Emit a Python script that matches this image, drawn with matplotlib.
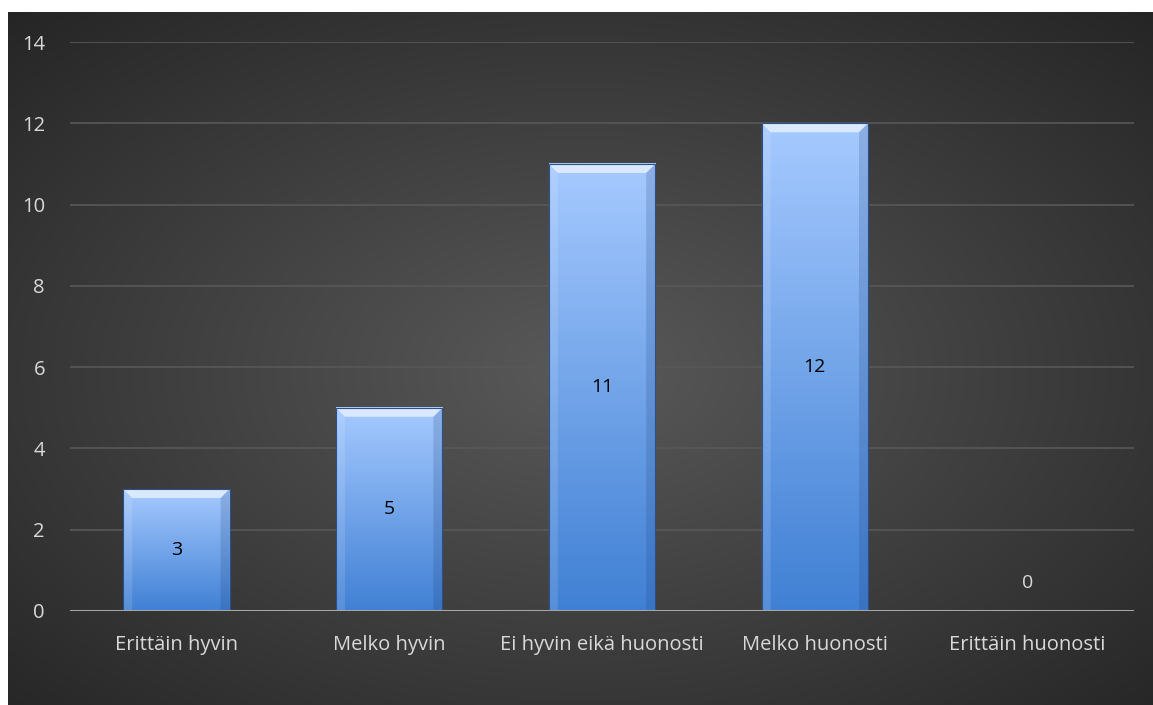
import numpy as np
import matplotlib.pyplot as plt
from matplotlib.patches import Polygon

categories = ['Erittäin hyvin', 'Melko hyvin', 'Ei hyvin eikä huonosti',
              'Melko huonosti', 'Erittäin huonosti']
values = [3, 5, 11, 12, 0]
yticks = [0, 2, 4, 6, 8, 10, 12, 14]

plt.rcParams['font.family'] = ['Open Sans', 'DejaVu Sans']

W, H = 1153, 705
fig = plt.figure(figsize=(W / 100, H / 100), dpi=100, facecolor='white')

# dark radial background
bg = fig.add_axes([8 / W, 0, (W - 8) / W, (H - 12) / H])
bg.set_axis_off()
yy, xx = np.mgrid[0:1:300j, 0:1:500j]
r = np.sqrt(((xx - 0.5) / 0.5) ** 2 + ((yy - 0.52) / 0.5) ** 2) / np.sqrt(2)
g = np.clip(0.35 - 0.2 * r, 0, 1)
bg.imshow(np.dstack([g, g, g]), aspect='auto', extent=[0, 1, 0, 1], interpolation='bicubic')

left, right = 70, 1134
bottom_px, top_px = 611, 42
ax = fig.add_axes([left / W, (H - bottom_px) / H, (right - left) / W, (bottom_px - top_px) / H])
ax.patch.set_alpha(0)
ax.set_xlim(-0.5, len(categories) - 0.5)
ax.set_ylim(0, 14)

for y in yticks[1:]:
    ax.axhline(y, color='#585858', lw=1.2, zorder=1)
ax.axhline(0, color='#a6a6a6', lw=2.2, zorder=5)

x = np.arange(len(categories))
bars = ax.bar(x, values, width=0.5, color='none', edgecolor='none', zorder=3)

# vertical gradient for bars
grad = np.linspace(0, 1, 256)[:, None]
top_c = np.array([166, 202, 255]) / 255
bot_c = np.array([64, 128, 212]) / 255
img = (bot_c[None, None, :] * (1 - grad[:, :, None]) + top_c[None, None, :] * grad[:, :, None])

px_x = 5 / (right - left)
px_y = 14 / (bottom_px - top_px)
bev = 9

for b, v in zip(bars, values):
    x0, w, h = b.get_x(), b.get_width(), b.get_height()
    if h <= 0:
        continue
    ax.imshow(img, extent=[x0, x0 + w, 0, h], origin='lower', aspect='auto', zorder=3)
    bx, by = bev * px_x, bev * px_y
    # top bevel
    ax.add_patch(Polygon([(x0, h), (x0 + w, h), (x0 + w - bx, h - by), (x0 + bx, h - by)],
                         closed=True, facecolor='#e8f2ff', edgecolor='none', alpha=0.8, zorder=4))
    # left bevel
    ax.add_patch(Polygon([(x0, 0), (x0, h), (x0 + bx, h - by), (x0 + bx, 0)],
                         closed=True, facecolor='white', edgecolor='none', alpha=0.12, zorder=4))
    # right bevel
    ax.add_patch(Polygon([(x0 + w, 0), (x0 + w, h), (x0 + w - bx, h - by), (x0 + w - bx, 0)],
                         closed=True, facecolor='#1a3a70', edgecolor='none', alpha=0.18, zorder=4))
    ax.add_patch(plt.Rectangle((x0, 0), w, h, facecolor='none', edgecolor='#2a4f8a', lw=0.8, zorder=4))

for xi, v in zip(x, values):
    if v > 0:
        ax.text(xi, v / 2, str(v), ha='center', va='center', fontsize=14, color='black', zorder=6)
    else:
        ax.text(xi, 0.7, str(v), ha='center', va='center', fontsize=14, color='#d9d9d9', zorder=6)

ax.set_yticks(yticks)
ax.set_xticks(x)
ax.set_xticklabels(categories)
ax.tick_params(axis='both', length=0, labelsize=14.5, colors='#d9d9d9')
ax.tick_params(axis='y', pad=18)
ax.tick_params(axis='x', pad=17)
for s in ax.spines.values():
    s.set_visible(False)

fig.savefig('out.png', dpi=100, facecolor='white')
